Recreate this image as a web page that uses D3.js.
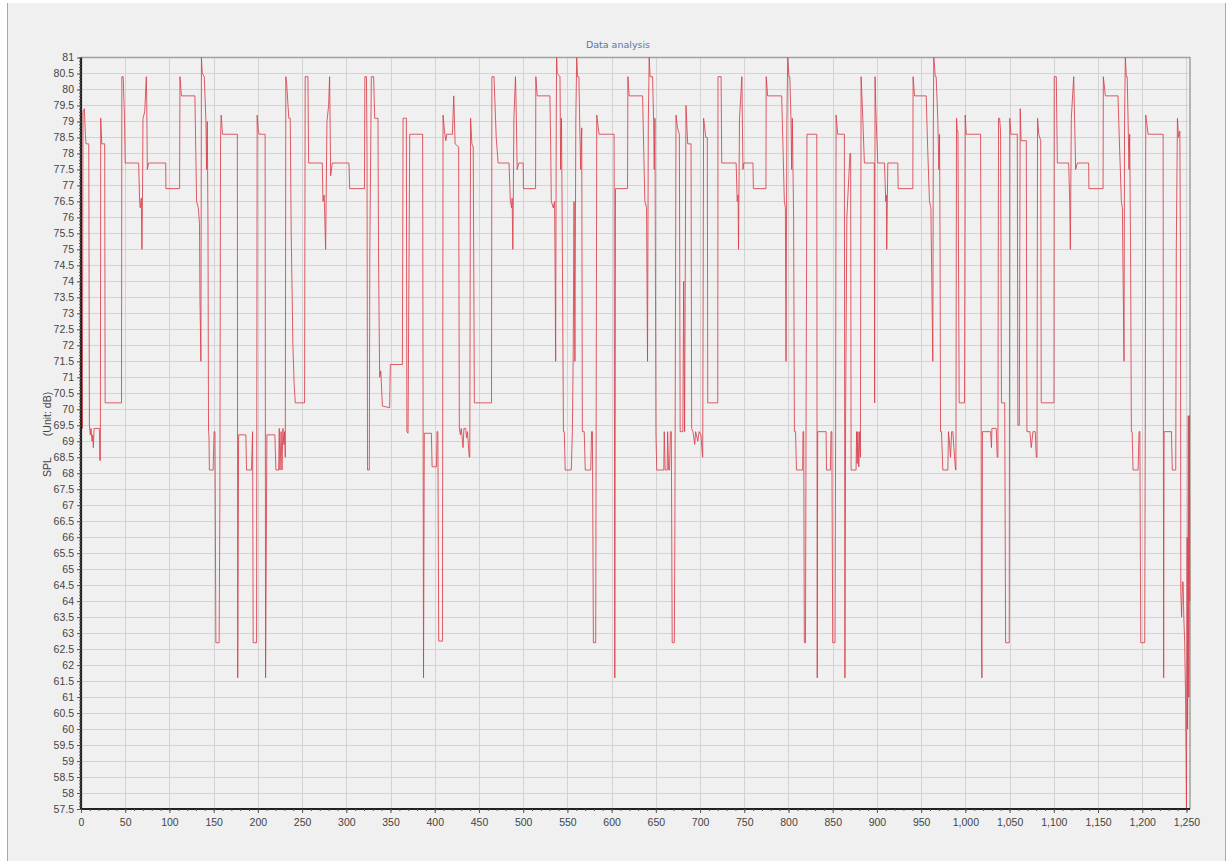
<!DOCTYPE html>
<html><head><meta charset="utf-8">
<script src="https://cdn.jsdelivr.net/npm/d3@7"></script>
<style>html,body{margin:0;padding:0;background:#fff;} svg{display:block;}</style>
</head><body>
<svg id="chart" width="1229" height="861"></svg>
<script>
const chartTitle = "Data analysis";
const yTitleMain = "SPL";
const yTitleUnit = "(Unit: dB)";
const xTickValues = d3.range(0, 1251, 50);
const xMinorValues = d3.range(0, 1251, 10);
const yTickValues = d3.range(57.5, 81.001, 0.5);
const yMinorValues = d3.range(57.5, 81.001, 0.1);

// SPL samples [index, dB]
const splA = [[0,69.3],[0.6,71.2],[1.5,69.4],[2.3,79.3],[3.8,79.4],[4.9,78.6],[5.7,78.3],[8.8,78.3],[9.5,69.5],[10.5,69.2],[11.3,69.4],[12.5,69.0],[13.2,69.2],[14,68.8],[14.8,69.4],[20.8,69.4],[21.3,68.4],[21.9,68.4],[22.3,79.1],[23.5,78.3],[26.8,78.3],[27.3,70.2],[45.8,70.2],[46.2,80.4],[47.7,80.4],[49.2,79.1],[50,77.7],[65.2,77.7],[66.3,76.5],[67,76.3],[68.2,76.6],[68.9,75.0],[69.5,76.5],[70.1,79.1],[72,79.3],[73.9,80.4],[74.4,79.5],[75,77.5],[76.5,77.7],[95.8,77.7],[96,76.9],[111.5,76.9],[111.9,80.4],[113.6,79.8],[128.8,79.8],[129.5,78.6],[130.7,76.5],[132.6,76.3],[134,75.8],[134.5,73.5],[135.6,71.5],[136.2,81],[137.1,80.5],[139.4,80.4],[141.3,79],[142,77.5],[142.8,79],[143.6,75.7],[144.2,69.3],[144.7,69.2],[145.2,68.1],[149.4,68.1],[150.5,69.3],[151.5,69.3],[152.5,62.7],[156.2,62.7],[157,67],[157.8,78.5],[158.5,79.2],[160,78.6],[176.8,78.6],[177.2,61.6],[178.2,69.2],[186.4,69.2],[187.2,68.1],[192.8,68.1],[194,69.3],[194.7,62.7],[198.5,62.7],[199.2,79.2],[200.5,78.7],[201.5,78.6],[208.2,78.6],[208.7,61.6],[210.2,69.2],[219.2,69.2],[220.4,68.1],[223.5,68.1],[224.2,69.4],[225,68.1],[226.3,69.3],[227.3,68.1],[228.3,69.4],[229.4,68.9],[230.2,69.3],[231,68.5],[231.6,80.4],[232.5,80.2],[235,79.1],[236.6,79.1],[237.7,75.5],[239.6,72],[241,70.8],[242.3,70.2]];
const splB = [[252.8,70.2],[253.5,80.4],[256.6,80.4],[257.4,77.7],[272.8,77.7],[273.6,76.5],[275,76.7],[276.6,75.0],[277.2,76.5],[278.1,79],[280,79.5],[281.1,80.4],[282.3,77.3],[284.2,77.7],[303,77.7],[303.8,76.9],[320.5,76.9],[321,80.4],[322.8,80.4],[323.4,78],[324,68.1],[326,68.1],[326.6,75],[328.3,80.4],[330.9,80.4],[332.1,79.1],[335.8,79.1],[336.5,74.6],[337.7,71],[339,71.2],[340.8,70.1],[349,70.05],[349.8,71.4],[363.4,71.4],[364.2,79.1],[367.9,79.1],[368.5,69.3],[369.8,69.25],[371.7,78.6],[386.3,78.6],[387.3,61.6],[388.2,69.25],[396.2,69.25],[397,68.2],[402,68.2],[402.6,69.3],[403.5,69.3],[404.5,62.75],[408.7,62.75],[409.4,79.2],[411,78.7],[412.5,78.4],[413.5,78.6],[420,78.6],[421.5,79.8],[423,78.3],[427,78.2],[427.8,69.4],[429,69.2],[430,69.4],[431,69.1],[432,68.8],[433,69.4],[435,69.4],[436,69.1],[437,69.3],[439,68.5],[439.6,68.5],[440.5,79.1],[442,78.3],[443.5,78.2],[444.8,70.2],[464.2,70.2],[464.6,80.4],[467,80.4],[469.5,78.5],[471.7,77.7],[484,77.7],[485.5,76.5],[487,76.3],[487.5,76.6],[488.3,75],[488.8,76.5],[489.5,79.1],[491.3,80.4],[492,79.5],[493.2,77.5],[495.1,77.7],[500,77.7]];
const splC = [[500.3,76.9],[514,76.9],[514.3,80.4],[515.9,79.8],[530.2,79.8],[531,78.5],[531.8,76.5],[534,76.3],[535.5,76.5],[536.2,74],[536.7,71.5],[537.4,79],[537.8,81],[538.5,80.5],[541.6,80.4],[542,79],[542.3,77.5],[543.3,79.1],[544.2,75.5],[545.5,69.3],[546.5,69.3],[547.5,68.1],[554.4,68.1],[555.6,69.3],[556.5,71.5],[557.5,76.5],[558.5,71.5],[559.5,79],[560.5,81],[561.5,80.4],[563,80.4],[563.9,79],[565,77.5],[566.2,78.8],[566.9,69.3],[569,69.3],[570.2,68.1],[576.4,68.1],[577.3,69.3],[578.3,69.3],[579.4,62.7],[582,62.7],[582.5,69.3],[583.2,79.2],[585.8,78.6],[602.8,78.6],[603.6,61.6],[604.4,76.9],[618,76.9],[618.4,80.4],[619.8,79.8],[635,79.8],[636,78.5],[637.6,76.5],[639.5,76.3],[640.6,71.5],[641.5,79],[642.5,81],[643.5,80.4],[646.3,80.4],[647.5,79],[648.2,77.5],[649,79.1],[650.1,69.3],[651,68.1],[659,68.1],[659.5,69.3],[660.5,68.1],[662.8,68.1],[663.3,69.3],[664.5,68.1],[665.5,68.1],[666.5,69.3],[667.5,69.3],[668.5,62.7],[670.9,62.7],[671.5,66],[672.8,79.2],[674.5,78.8],[676.6,78.6],[677.5,69.3],[680.5,69.3],[681.5,74],[682.5,69.3],[684.1,79.5],[686,78.3],[689.8,78.3],[690.5,69.4],[692,69.3],[694,68.9],[695,69.3],[697.4,69.0],[699,69.3],[701,69.2],[702.5,68.6],[703,68.5],[704,79.1],[706.5,78.5],[708.2,78.5],[708.7,70.2],[720,70.2],[720.3,80.4],[723.8,80.4],[724.5,77.7],[740.8,77.7],[742,76.5],[743,76.7],[743.5,75],[744.6,79.1],[747.3,80.4],[748.5,77.5],[749.5,77.7]];
const splD = [[759.8,77.7],[760.3,76.9],[774.5,76.9],[774.8,80.4],[776.4,79.8],[792.3,79.8],[793.5,78.5],[795.3,76.5],[796.5,76.3],[797.2,71.5],[798.2,79],[799.1,81],[800.5,80.4],[801.5,80.4],[802.8,79.1],[803.6,77.5],[804.3,79.1],[805.8,76],[806.7,69.3],[808,69.3],[809,68.1],[816,68.1],[816.4,69.3],[817.2,69.3],[817.9,62.7],[819.2,62.7],[819.8,69],[820.9,78.6],[832,78.6],[832.5,61.6],[833,69.3],[842.5,69.3],[843,68.1],[847.4,68.1],[848.1,69.3],[849,69.3],[850,62.7],[852.6,62.7],[853.3,69.3],[853.8,79.2],[855.7,78.6],[863.2,78.6],[863.8,61.6],[864.6,70],[866,76],[869.5,78],[870.3,78],[870.8,68.1],[876.4,68.1],[877,69.3],[877.7,68.3],[878.5,69.3],[879.5,68.2],[880.5,69.3],[881.3,68.5],[882.1,80.4],[884,79.1],[885.8,77.7],[897,77.7],[897.4,70.2],[897.9,80.4],[898.6,79.5],[900.9,77.7],[908.5,77.7],[910,76.5],[910.6,76.7],[911.1,75],[912.3,77.7],[923.6,77.7],[924,76.9],[940.6,76.9],[940.9,80.4],[942.5,79.8],[955.7,79.8],[957,78.5],[959.4,76.5],[961,76.3],[963.2,71.5],[963.8,79],[964.3,81],[966,80.4],[967,80.4],[968.9,79],[970,77.5],[970.8,78.6],[971.4,75],[971.9,69.3],[973,69.3],[974.5,68.1],[980.2,68.1],[980.9,69.3],[982,69.0],[983.2,68.5],[984.5,69.3],[985.8,69.3],[987,68.8],[988.9,68.1],[989.3,68.1],[990,79.1],[990.8,78.7],[991.6,78.7],[993,70.2],[999,70.2],[999.8,79.2],[1001,78.6]];
const splE = [[1017.2,78.6],[1017.6,75],[1018.2,62.7],[1018.7,61.6],[1019.3,69.3],[1028.5,69.3],[1029.5,68.8],[1030,69.4],[1034.9,69.4],[1036,68.5],[1036.8,68.5],[1037.5,79.1],[1038.7,79.1],[1039.8,78.7],[1040.8,70.2],[1044.5,70.2],[1045.5,62.7],[1049.6,62.7],[1050.2,79.1],[1051.5,78.6],[1058.7,78.6],[1059.4,69.5],[1061,69.5],[1062,79.4],[1063,78.4],[1068.9,78.4],[1069.6,69.3],[1073,69.3],[1074.5,68.8],[1076.4,69.3],[1079,69.3],[1080.2,68.5],[1081,68.5],[1081.6,79.1],[1083,78.6],[1085.2,78.4],[1085.8,70.2],[1100.2,70.2],[1100.5,80.4],[1102.8,80.4],[1104,77.7],[1116.8,77.7],[1118,76.5],[1118.7,75],[1119.8,79.1],[1122.5,80.4],[1124.7,77.5],[1126.6,77.7],[1139.4,77.7],[1139.7,76.9],[1155.7,76.9],[1156,80.4],[1158.3,79.8],[1172.6,79.8],[1174,78.5],[1176.4,76.5],[1177.5,76.3],[1179.4,71.5],[1180,79],[1180.9,81],[1182,80.4],[1183,80.4],[1184,79],[1185,77.5],[1185.8,78.6],[1186.8,75],[1187.7,69.3],[1188.6,69.3],[1189.6,68.1],[1195.3,68.1],[1196.4,69.3],[1197.3,69.3],[1198.3,62.7],[1202.8,62.7],[1203.4,69.3],[1204,79.2],[1206.6,78.6],[1223.6,78.6],[1224.2,61.6],[1224.7,69.3],[1233,69.3],[1234,68.1],[1237.9,68.1],[1238.5,75],[1239.8,79.1],[1241,78.5],[1242.5,78.7],[1243.2,75],[1243.6,64.3],[1244.5,63.5],[1245.5,64.6],[1246.2,64.6],[1247,63.5],[1248,62.7],[1249,61],[1250,57.5],[1250.8,66],[1251.3,60],[1252,69.8],[1252.6,61],[1253.2,69.8],[1253.8,64]];

const series = [].concat(splA, splB, splC, splD, splE);

const svg = d3.select("#chart");
const X0 = 81, X1 = 1190, Y0 = 809, Y1 = 57.5;
const x = d3.scaleLinear().domain([0, 1254]).range([X0, X1]);
const y = d3.scaleLinear().domain([57.5, 81]).range([Y0, Y1]);

// panel
svg.append("rect").attr("x", 7).attr("y", 3).attr("width", 1218).attr("height", 861).attr("fill", "#f0f0f0");
svg.append("line").attr("x1", 7.5).attr("x2", 7.5).attr("y1", 3).attr("y2", 861).attr("stroke", "#a9a9a9");
svg.append("line").attr("x1", 1225.5).attr("x2", 1225.5).attr("y1", 3).attr("y2", 861).attr("stroke", "#a9a9a9");

// grid
const grid = svg.append("g");
grid.selectAll("line.v").data(xTickValues.filter(d => d > 0)).join("line")
  .attr("class", "v")
  .attr("x1", d => Math.round(x(d)) + 0.5).attr("x2", d => Math.round(x(d)) + 0.5)
  .attr("y1", Y1).attr("y2", Y0).attr("stroke", "#d3d3d3");
grid.selectAll("line.h").data(yTickValues.filter(d => d > 57.6 && d < 80.9)).join("line")
  .attr("class", "h")
  .attr("y1", d => Math.round(y(d)) + 0.5).attr("y2", d => Math.round(y(d)) + 0.5)
  .attr("x1", X0).attr("x2", X1).attr("stroke", "#d3d3d3");

// top/right frame
svg.append("path").attr("d", `M${X0},${Y1}H${X1}V${Y0}`).attr("fill", "none").attr("stroke", "#a0a0a0").attr("stroke-width", 1.5);

// data line
const line = d3.line().x(d => x(d[0])).y(d => y(d[1]));
svg.append("path").datum(series).attr("d", line)
  .attr("fill", "none").attr("stroke", "#d8404b").attr("stroke-width", 1).attr("stroke-opacity", 0.85)
  .attr("stroke-linejoin", "miter");

// axes
const fmtY = d3.format(".1~f");
const yAxis = svg.append("g").attr("transform", `translate(${X0},0)`)
  .call(d3.axisLeft(y).tickValues(yTickValues).tickSize(4).tickPadding(3).tickFormat(fmtY));
svg.append("g").attr("transform", `translate(${X0},0)`)
  .call(d3.axisLeft(y).tickValues(yMinorValues).tickSize(2).tickFormat(""))
  .call(g => g.select(".domain").remove());
const xAxis = svg.append("g").attr("transform", `translate(0,${Y0})`)
  .call(d3.axisBottom(x).tickValues(xTickValues).tickSize(4).tickPadding(6).tickFormat(d3.format(",")));
svg.append("g").attr("transform", `translate(0,${Y0})`)
  .call(d3.axisBottom(x).tickValues(xMinorValues).tickSize(2).tickFormat(""))
  .call(g => g.select(".domain").remove());

svg.selectAll(".domain").attr("stroke", "#222").attr("stroke-width", 2.2);
svg.selectAll(".tick line").attr("stroke", "#555");
svg.selectAll(".tick text").attr("fill", "#444").attr("font-family", "Liberation Sans, Arial, sans-serif").attr("font-size", 10.5);
// x axis domain extends to frame
xAxis.select(".domain").attr("d", `M${X0},0H${X1}`);
yAxis.select(".domain").attr("d", `M0,${Y0}V${Y1}`);

// title
svg.append("text").attr("x", 618).attr("y", 48).attr("text-anchor", "middle")
  .attr("font-family", "DejaVu Sans, sans-serif").attr("font-size", 9.5).attr("fill", "#6272a8")
  .text(chartTitle);

// y title
svg.append("text").attr("transform", "translate(47,467) rotate(-90)").attr("text-anchor", "middle")
  .attr("dominant-baseline", "central")
  .attr("font-family", "Liberation Sans, Arial, sans-serif").attr("font-size", 10.5).attr("fill", "#444")
  .text(yTitleMain);
svg.append("text").attr("transform", "translate(47,414) rotate(-90)").attr("text-anchor", "middle")
  .attr("dominant-baseline", "central")
  .attr("font-family", "Liberation Sans, Arial, sans-serif").attr("font-size", 10.5).attr("fill", "#444")
  .text(yTitleUnit);
</script>
</body></html>
